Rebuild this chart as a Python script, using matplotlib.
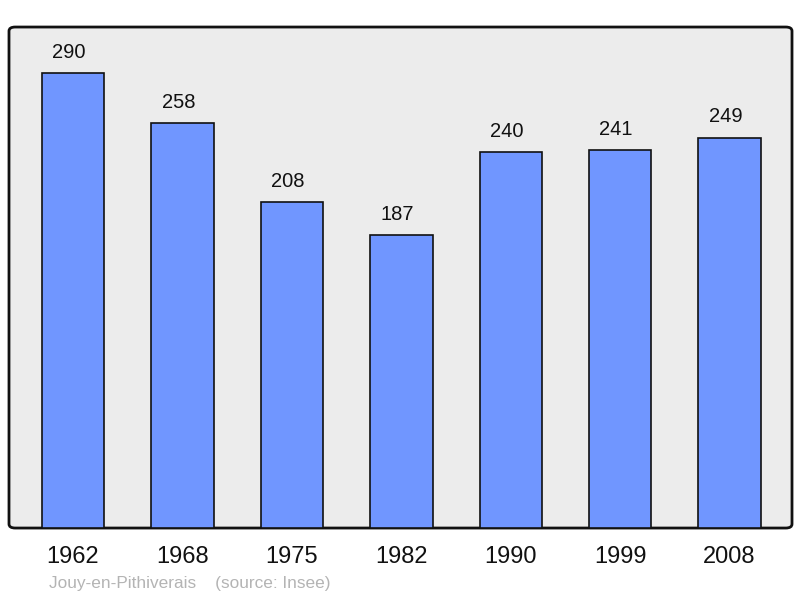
import matplotlib.pyplot as plt
from matplotlib.patches import FancyBboxPatch

years = ['1962', '1968', '1975', '1982', '1990', '1999', '2008']
population = [290, 258, 208, 187, 240, 241, 249]

plt.rcParams['font.family'] = ['Liberation Sans', 'DejaVu Sans']

fig = plt.figure(figsize=(8, 5.98), dpi=100)
ax = fig.add_axes([0.01125, 0.117, 0.97875, 0.8378])
ax.set_facecolor('none')

# rounded grey frame behind the bars
frame = FancyBboxPatch((0, 0), 1, 1, boxstyle='round,pad=0,rounding_size=0.008',
                       transform=ax.transAxes, facecolor='#ececec',
                       edgecolor='#111111', linewidth=2, zorder=0, clip_on=False)
ax.add_patch(frame)

x = range(len(years))
ax.bar(x, population, width=0.57, color='#7096ff', edgecolor='#111111',
       linewidth=1.2, zorder=2)
for i, v in enumerate(population):
    ax.annotate(str(v), (i, v), xytext=(-3, 8), textcoords='offset points',
                ha='center', va='bottom', fontsize=14.5, color='#111111')

ax.set_xlim(-0.585, 6.57)
ax.set_ylim(0, 319.5)
for s in ax.spines.values():
    s.set_visible(False)
ax.set_yticks([])
ax.set_xticks(list(x))
ax.set_xticklabels(years, fontsize=17, color='#111111')
ax.tick_params(axis='x', length=0, pad=13)

fig.text(0.061, 0.012, 'Jouy-en-Pithiverais    (source: Insee)',
         fontsize=12.4, color='#b4b4b4', ha='left', va='bottom')

fig.savefig('out.png', dpi=100)
